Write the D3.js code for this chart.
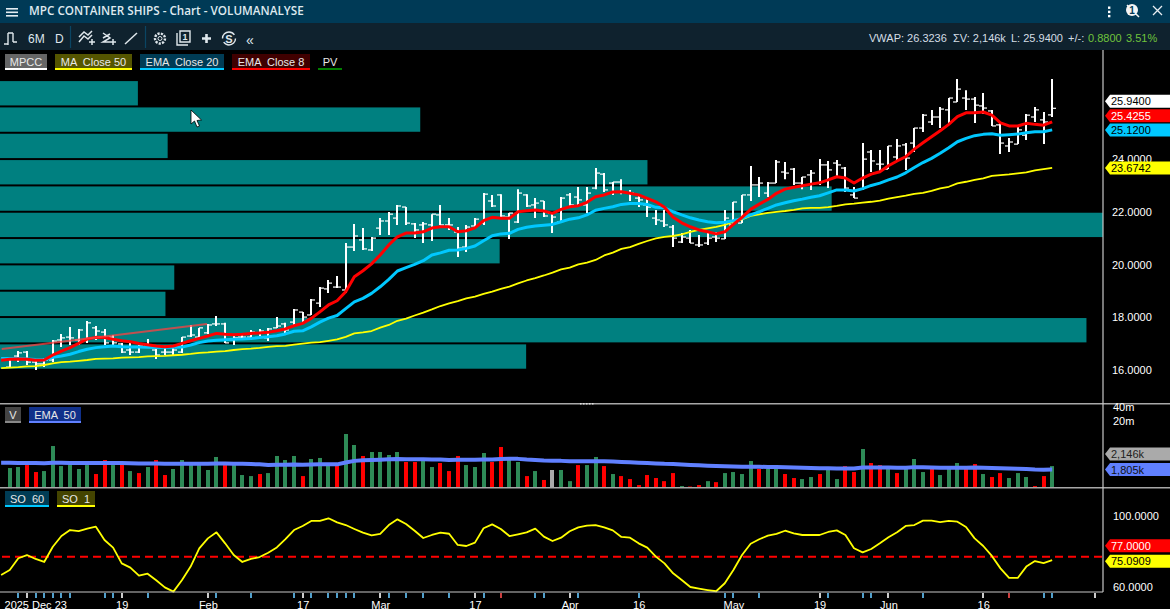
<!DOCTYPE html>
<html>
<head>
<meta charset="utf-8">
<script src="https://cdnjs.cloudflare.com/ajax/libs/d3/7.8.5/d3.min.js"></script>
<style>
  html, body { margin: 0; padding: 0; background: #000; overflow: hidden; }
  svg { display: block; }
  text { font-family: "Liberation Sans", Arial, sans-serif; white-space: pre; }
</style>
</head>
<body>
<svg id="chart" width="1170" height="609"></svg>
<script>
const highs = [16.49,16.72,16.72,16.38,16.46,17.14,17.37,17.63,17.56,17.86,17.67,17.56,17.33,17.03,17.03,16.95,17.18,16.84,16.84,16.84,
  17.25,17.71,17.60,17.75,18.05,17.79,17.29,17.33,17.52,17.56,17.60,18.01,17.79,18.32,18.20,18.70,19.15,19.42,19.57,20.82,
  21.55,21.39,21.05,21.77,22.00,22.27,22.19,21.58,21.62,21.92,22.27,21.77,21.43,21.51,21.77,22.72,22.65,22.68,21.96,22.87,
  22.68,22.53,22.42,22.00,22.57,22.72,22.95,22.95,23.67,23.48,23.14,23.25,22.84,22.61,22.53,22.08,22.08,21.51,21.20,21.32,
  21.13,21.20,21.24,22.08,22.38,22.65,23.75,23.33,23.14,23.98,23.90,23.67,23.33,23.60,24.01,23.94,23.98,23.71,22.95,24.62,
  24.36,24.36,24.51,24.77,24.62,25.19,25.72,25.88,25.99,26.33,27.05,26.63,26.37,26.52,25.88,25.38,24.81,25.23,25.72,25.99,25.80,27.05]
const lows = [16.08,16.30,16.19,16.00,16.11,16.30,16.87,16.95,16.95,17.03,17.14,16.95,16.95,16.65,16.57,16.65,16.84,16.42,16.57,16.57,
  16.65,17.25,17.22,17.37,17.67,17.03,16.95,17.18,17.14,17.25,17.10,17.60,17.41,17.71,17.79,18.09,18.39,18.92,19.11,18.92,
  20.52,20.56,20.52,21.13,21.13,21.51,21.51,21.01,20.82,20.90,21.51,21.32,20.29,20.48,21.39,21.51,22.19,21.81,20.98,21.58,
  22.19,21.77,21.81,21.20,21.58,22.19,22.23,21.96,22.87,22.76,22.65,22.68,22.42,22.19,21.81,21.51,21.43,20.67,20.82,20.82,
  20.67,20.75,20.86,20.98,21.51,21.58,22.42,22.57,22.57,23.10,23.25,23.03,22.87,22.84,23.03,22.91,23.33,22.76,22.53,22.84,
  23.52,23.52,23.63,23.90,23.60,24.28,25.04,25.31,25.19,25.38,26.18,25.88,25.38,25.72,25.27,24.20,24.28,24.58,24.74,25.42,24.58,25.61]
const opens = [16.11,16.53,16.68,16.30,16.23,16.38,17.14,17.25,17.14,17.14,17.60,17.44,17.25,16.99,16.76,16.68,16.95,16.76,16.68,16.68,
  16.68,17.29,17.25,17.41,17.75,17.75,17.14,17.25,17.25,17.41,17.22,17.60,17.75,17.82,18.20,18.09,18.54,19.08,19.15,19.04,
  20.67,20.94,20.56,21.39,21.66,21.77,22.19,21.55,21.51,21.51,21.89,21.51,21.24,20.67,21.47,21.58,22.42,22.65,21.81,21.62,
  22.65,22.27,22.42,21.96,21.62,22.65,22.57,22.27,22.91,23.44,23.10,23.14,22.72,22.53,22.27,21.77,21.66,21.43,20.86,21.01,
  20.75,20.82,21.05,20.98,21.51,21.58,22.65,23.03,22.72,23.10,23.52,23.63,23.10,23.41,23.10,23.79,23.86,23.67,22.65,22.87,
  24.28,23.82,23.63,24.09,24.55,24.62,25.19,25.42,25.61,25.88,26.18,26.33,26.29,26.03,25.84,25.31,24.51,24.58,24.92,25.61,25.50,25.69]
const closes = [16.46,16.65,16.30,16.23,16.38,17.10,17.22,17.22,17.52,17.79,17.48,17.03,17.03,16.68,16.68,16.95,16.95,16.57,16.68,16.76,
  17.25,17.33,17.60,17.71,17.75,17.03,17.22,17.25,17.44,17.48,17.56,17.67,17.52,18.28,18.01,18.66,19.11,19.30,19.15,20.67,
  21.09,20.60,21.01,21.66,21.92,22.23,21.58,21.32,21.55,21.92,21.51,21.51,20.63,21.43,21.73,22.68,22.23,21.85,21.96,22.72,
  22.23,22.34,21.85,21.81,22.53,22.27,22.46,22.72,23.48,22.84,23.14,22.76,22.72,22.46,22.19,21.70,21.51,21.01,21.05,20.82,
  20.75,21.01,21.01,21.77,22.38,22.65,23.03,23.10,23.10,23.90,23.48,23.10,23.33,23.48,23.79,23.60,23.79,22.91,22.53,24.01,
  23.94,23.82,24.51,24.51,24.05,25.19,25.68,25.61,25.91,26.33,26.67,26.29,26.06,25.95,25.27,24.62,24.66,25.12,25.68,25.88,25.42,25.94]

// the indicator lines start one session before the first bar
const ema8 = [16.37,16.41,16.42,16.41,16.37,16.38,16.57,16.72,16.85,17.01,17.18,17.24,17.23,17.17,17.11,17.07,17.01,16.96,16.91,16.88,16.91,
  17.01,17.11,17.20,17.29,17.39,17.36,17.34,17.36,17.39,17.41,17.43,17.49,17.56,17.68,17.77,17.96,18.21,18.47,18.63,18.97,
  19.54,19.77,20.03,20.37,20.75,21.06,21.20,21.20,21.25,21.39,21.44,21.44,21.25,21.29,21.40,21.67,21.80,21.76,21.76,22.01,
  22.05,22.08,22.04,21.95,22.10,22.20,22.24,22.37,22.58,22.65,22.76,22.77,22.71,22.65,22.52,22.39,22.18,21.80,21.59,21.44,
  21.32,21.25,21.17,21.25,21.53,21.80,22.10,22.30,22.48,22.71,22.87,22.94,23.00,23.06,23.11,23.22,23.34,23.29,23.10,23.29,
  23.44,23.53,23.76,23.94,24.10,24.39,24.63,24.86,25.09,25.33,25.62,25.77,25.77,25.80,25.68,25.39,25.27,25.27,25.37,25.33,25.30,25.4255]
const ema20 = [16.44,16.44,16.44,16.42,16.40,16.39,16.48,16.53,16.60,16.70,16.79,16.85,16.88,16.91,16.88,16.87,16.87,16.86,16.85,16.86,16.86,
  16.87,16.95,17.04,17.10,17.13,17.15,17.17,17.18,17.20,17.23,17.26,17.30,17.37,17.47,17.49,17.64,17.82,17.97,18.07,18.33,
  18.59,18.72,18.91,19.16,19.44,19.76,19.89,20.01,20.15,20.37,20.45,20.55,20.56,20.62,20.71,20.91,21.10,21.17,21.19,21.34,
  21.42,21.47,21.50,21.53,21.63,21.73,21.78,21.89,22.07,22.14,22.20,22.29,22.32,22.32,22.29,22.18,22.16,22.01,21.89,21.78,
  21.70,21.63,21.59,21.61,21.67,21.76,21.89,22.01,22.14,22.27,22.35,22.43,22.49,22.56,22.62,22.73,22.84,22.84,22.80,22.89,
  23.01,23.10,23.22,23.33,23.49,23.69,23.88,24.04,24.23,24.44,24.67,24.80,24.90,24.95,24.97,24.92,24.94,24.96,25.01,25.05,25.05,25.12]
const ma50 = [16.07,16.09,16.11,16.14,16.15,16.19,16.25,16.30,16.32,16.35,16.38,16.42,16.43,16.44,16.47,16.48,16.49,16.52,16.53,16.54,16.56,
  16.58,16.61,16.65,16.67,16.70,16.72,16.76,16.79,16.81,16.84,16.88,16.91,16.92,16.96,17.00,17.04,17.06,17.11,17.16,17.26,
  17.39,17.43,17.48,17.61,17.71,17.87,17.95,18.07,18.18,18.30,18.43,18.53,18.62,18.72,18.79,18.89,18.98,19.08,19.17,19.29,
  19.40,19.49,19.59,19.70,19.82,19.89,20.01,20.08,20.18,20.35,20.46,20.60,20.67,20.79,20.90,21.00,21.06,21.09,21.15,21.25,
  21.32,21.38,21.44,21.51,21.63,21.72,21.85,21.91,21.97,22.01,22.04,22.08,22.14,22.16,22.16,22.19,22.23,22.29,22.32,22.36,
  22.39,22.43,22.51,22.57,22.62,22.69,22.73,22.80,22.90,22.96,23.09,23.15,23.22,23.28,23.37,23.40,23.43,23.47,23.51,23.58,23.63,23.6742]

// volume in thousands
const volumes = [1950,2050,2260,1600,1680,5800,2150,2260,1860,2260,1450,2900,2260,2500,1680,1520,2050,2900,1380,1860,
  2900,2260,2260,1770,3370,2260,2260,1380,1310,1450,1520,3540,2900,3540,1310,3050,3210,2260,2260,10510,
  6100,3540,4310,4310,3720,4310,2630,2630,2900,2050,2500,1680,3540,2260,2050,4100,2630,5520,2900,2630,
  1310,1680,1080,1770,1770,1020,2260,2260,3370,2150,1450,1310,1130,840,1380,1190,1020,1520,800,780,
  840,1020,970,1520,1600,1450,2760,1860,1860,1860,1450,1190,1130,1250,1450,1770,1130,2150,1600,5000,
  2500,2260,1860,1520,1860,3050,1600,1860,1380,1860,2500,1860,2380,1450,1250,1520,1190,1520,1250,800,1310,2146]
const volDown = [2,3,10,11,13,15,17,18,25,29,34,38,41,46,47,50,51,52,56,57,60,62,66,69,71,72,73,74,75,76,77,79,80,82,87,90,91,94,97,98,100,101,103,107,111,112,114,115,119,120]
const volFlat = [63]
const volEma50 = [2520,2520,2510,2510,2500,2480,2520,2520,2510,2510,2510,2500,2500,2500,2490,2470,2450,2440,2430,2420,2420,
  2420,2420,2420,2420,2430,2430,2420,2400,2370,2340,2280,2290,2300,2320,2300,2320,2340,2350,2340,2560,
  2780,2850,2900,2950,3000,3040,3020,3020,3010,2980,2960,2920,2950,2950,2930,2980,2980,3060,3070,3070,
  2960,2900,2830,2800,2780,2730,2720,2720,2740,2720,2680,2640,2590,2530,2490,2450,2400,2380,2330,2280,
  2230,2190,2150,2120,2100,2070,2090,2070,2060,2060,2040,2000,1970,1950,1930,1930,1900,1910,1900,2000,
  2010,2010,2010,1990,1990,2040,2020,2010,1980,1980,1990,1990,2000,1970,1950,1930,1900,1880,1860,1820,1800,1805]

const so1 = [66.8,69.6,76.2,78,75.8,74.1,82.7,88.7,92.1,91.5,92.9,94,86.5,82.2,73.3,70.9,66.4,67.5,63.8,59.8,57.4,
  63.9,71.5,81.8,87.4,90.8,84.6,78,74.1,75.8,76.9,79.3,82.3,87,92.1,94.4,97.2,97.2,98.7,96.4,94.9,
  92.7,90.6,89.1,89.9,94.9,98.1,95.5,91.7,87.6,89.3,90.6,90,83.7,83.1,85,93.1,95.3,92.7,88.7,89.7,
  90.8,92.9,88.4,85.9,87.8,91.4,93.6,94.6,94.9,93.6,91.9,88.2,87.8,84.6,82.2,77.1,73.3,67.7,63.9,60,
  59.1,58.3,57.6,62.1,69.6,78,84.4,86.9,88.9,89.9,91.7,90.2,89.3,89.3,89.3,91,91.9,89.3,81.8,79.5,
  81.4,84.6,88,90.8,94.4,94.9,97.4,97.4,96.6,97.2,96.8,93.8,87.4,83.1,77.5,70.5,65.1,65.1,71.5,74.6,73.5,75.0909]

// volume profile: one bar per price unit, length as % of the pane
const pvLevels = [16,17,18,19,20,21,22,23,24,25,26]
const pvShares = [47.7,98.5,15,15.8,45.3,100,75.4,58.7,15.2,38.1,12.5]

const trendIndex = [-0.93,22.9]
const trendPrice = [16.80,17.75]

const priceTicks = [16,18,20,22,24]
const volumeTicks = [20000,40000]
const soTicks = [60,100]
const soLevel = 77

const dateTicks = [2,13,23,34,43,54,65,73,84,94,102,113]
const dateLabels = ['2025 Dec 23','19','Feb','17','Mar','17','Apr','16','May','19','Jun','16']
const blueTicks = [1,3,4,5,6,7,11,12,16,24,28,33,35,37,38,39,40,44,46,48,51,55,61,62,66,73,83,84,87,95,99,100,106,120,121]
const redTicks = [57,116]
const whiteTicks = [126]

const paneRight = 1103
const green = '#2e8b57'
const svg = d3.select('#chart')

let x = d3.scaleLinear().domain([-1.13, 126.9]).range([0, paneRight])
let y = d3.scaleLinear().domain([16, 27]).range([370, 80.4])
let yVol = d3.scaleLog().domain([763, 20000]).range([487, 421])
let ySo = d3.scaleLinear().domain([60, 100]).range([587, 516])
let xPv = d3.scaleLinear().domain([0, 100]).range([0, paneRight])

svg.append('rect').attr('width', 1170).attr('height', 609).attr('fill', '#000')

// volume profile
svg.append('g').selectAll('rect').data(pvLevels).enter().append('rect')
  .attr('x', 0)
  .attr('y', d => y(d + 1) + 0.7)
  .attr('width', (d, i) => xPv(pvShares[i]))
  .attr('height', d => y(d) - y(d + 1) - 2)
  .attr('fill', '#008080')

// ohlc bars
let bars = svg.append('g').attr('stroke', '#fff')
closes.forEach((c, i) => {
  let px = Math.round(x(i))
  bars.append('line').attr('x1', px).attr('x2', px).attr('y1', y(highs[i])).attr('y2', y(lows[i])).attr('stroke-width', 2)
  bars.append('line').attr('x1', px - 4).attr('x2', px).attr('y1', y(opens[i])).attr('y2', y(opens[i])).attr('stroke-width', 1.2)
  bars.append('line').attr('x1', px).attr('x2', px + 4).attr('y1', y(c)).attr('y2', y(c)).attr('stroke-width', 1.2)
})

function drawLine(values, yScale, color, width) {
  let line = d3.line().x((d, i) => x(i - 1)).y(d => yScale(d))
  svg.append('path').attr('d', line(values)).attr('fill', 'none')
    .attr('stroke', color).attr('stroke-width', width).attr('stroke-linejoin', 'round')
}

drawLine(ma50, y, '#ffff00', 1.8)
drawLine(ema20, y, '#00c8ff', 3)
drawLine(ema8, y, '#ff0000', 3)

// trend line
svg.append('line')
  .attr('x1', x(trendIndex[0])).attr('y1', y(trendPrice[0]))
  .attr('x2', x(trendIndex[1])).attr('y2', y(trendPrice[1]))
  .attr('stroke', '#ff4040').attr('stroke-opacity', 0.75).attr('stroke-width', 2)

// volume
svg.append('g').selectAll('rect').data(volumes).enter().append('rect')
  .attr('x', (d, i) => Math.round(x(i)) - 2)
  .attr('y', d => yVol(d))
  .attr('width', 4)
  .attr('height', d => 487 - yVol(d))
  .attr('fill', (d, i) => volFlat.includes(i) ? '#aaaaaa' : volDown.includes(i) ? '#ff0000' : green)
drawLine(volEma50, yVol, '#6080ff', 4)

// stochastic
svg.append('line').attr('x1', 2).attr('x2', paneRight).attr('y1', ySo(soLevel)).attr('y2', ySo(soLevel))
  .attr('stroke', '#ff0000').attr('stroke-width', 2).attr('stroke-dasharray', '8,5')
drawLine(so1, ySo, '#ffff00', 1.8)

// frame
function rule(x1, x2, y1, y2, w, c) {
  svg.append('line').attr('x1', x1).attr('x2', x2).attr('y1', y1).attr('y2', y2)
    .attr('stroke', c).attr('stroke-width', w)
}
rule(0, 1170, 403.8, 403.8, 1.6, '#a8a8a8')
rule(0, 1170, 487.8, 487.8, 1.6, '#a8a8a8')
rule(0, paneRight, 592, 592, 1.2, '#c8c8c8')
rule(paneRight, paneRight, 50, 592, 1.2, '#c8c8c8')
d3.range(5).forEach(i => {
  svg.append('rect').attr('x', 580 + i * 3).attr('y', 403).attr('width', 1.5).attr('height', 1.5).attr('fill', '#e0e0e0')
})

// time axis
function timeMarks(list, color) {
  svg.append('g').selectAll('line').data(list).enter().append('line')
    .attr('x1', d => Math.round(x(d))).attr('x2', d => Math.round(x(d)))
    .attr('y1', 593).attr('y2', 598).attr('stroke', color).attr('stroke-width', 1.6)
}
timeMarks(blueTicks, '#66c8ff')
timeMarks(redTicks, '#ff5050')
timeMarks(whiteTicks.concat(dateTicks.filter(d => d != 73 && d != 84)), '#ffffff')

let xAxis = d3.axisBottom(x).tickValues(dateTicks)
  .tickFormat((d, i) => dateLabels[i]).tickSize(0).tickPadding(0)
let xg = svg.append('g').attr('transform', 'translate(0,598)').call(xAxis)
xg.select('.domain').remove()
xg.selectAll('text').attr('fill', '#fff').attr('font-size', 11).attr('y', 0).attr('dy', 10.5)
  .filter((d, i) => i == 0).attr('text-anchor', 'start').attr('x', 4 - x(2))

// value axes
function valueAxis(scale, ticks, fmt, left) {
  let g = svg.append('g').attr('transform', `translate(${left},0)`)
    .call(d3.axisRight(scale).tickValues(ticks).tickFormat(fmt).tickSize(0).tickPadding(0))
  g.select('.domain').remove()
  g.selectAll('text').attr('fill', '#fff').attr('font-size', 11)
}
valueAxis(y, priceTicks, d3.format('.4f'), 1112)
valueAxis(yVol, volumeTicks, d => (d / 1000) + 'm', 1113)
valueAxis(ySo, soTicks, d3.format('.4f'), 1113)

// value callouts on the right
function callout(cy, label, fill, color) {
  svg.append('path')
    .attr('d', `M1105,${cy}L1110,${cy - 6.5}H1170V${cy + 6.5}H1110Z`)
    .attr('fill', fill)
  svg.append('text').attr('x', 1111).attr('y', cy + 4).attr('font-size', 11).attr('fill', color).text(label)
}
const fmt4 = d3.format('.4f')
const last = arr => arr[arr.length - 1]
callout(y(last(closes)) - 7, fmt4(last(closes)), '#ffffff', '#000')
callout(y(last(ema8)) - 6, fmt4(last(ema8)), '#ff0000', '#fff')
callout(y(last(ema20)), fmt4(last(ema20)), '#00c8ff', '#000')
callout(y(last(ma50)), fmt4(last(ma50)), '#ffff00', '#000')
callout(yVol(last(volumes)) - 12, '2,146k', '#aaaaaa', '#222')
callout(yVol(last(volEma50)), '1,805k', '#6080ff', '#111')
callout(ySo(soLevel) - 11, fmt4(soLevel), '#ff0000', '#fff')
callout(ySo(last(so1)) + 1, fmt4(last(so1)), '#ffff00', '#000')

// legend chips
function chip(lx, ly, w, label, bg, under) {
  if (bg) svg.append('rect').attr('x', lx).attr('y', ly).attr('width', w).attr('height', 14).attr('fill', bg)
  svg.append('rect').attr('x', lx).attr('y', ly + 14).attr('width', w).attr('height', 2).attr('fill', under)
  svg.append('text').attr('x', lx + w / 2).attr('y', ly + 11.5).attr('text-anchor', 'middle')
    .attr('font-size', 11).attr('fill', '#e8e8e8').text(label)
}
chip(5, 54, 42, 'MPCC', '#666666', '#ffffff')
chip(55, 54, 77, 'MA  Close 50', '#555500', '#ffff00')
chip(140, 54, 84, 'EMA  Close 20', '#003c55', '#00c8ff')
chip(232, 54, 78, 'EMA  Close 8', '#400000', '#ff0000')
chip(318, 54, 24, 'PV', null, '#008000')
chip(5, 407, 16, 'V', '#444444', '#888888')
chip(29, 407, 52, 'EMA  50', '#10308a', '#6080ff')
chip(5, 491, 44, 'SO  60', '#003c55', '#00c8ff')
chip(57, 491, 38, 'SO  1', '#444400', '#ffff00')

// mouse cursor
svg.append('path').attr('d', 'M191,110V124L194.5,121L197,127L199.5,126L197,120.5L201.5,120Z')
  .attr('fill', '#fff').attr('stroke', '#000').attr('stroke-width', 0.8)

// title bar and toolbar
svg.append('rect').attr('width', 1170).attr('height', 23).attr('fill', '#003a56')
svg.append('rect').attr('y', 23).attr('width', 1170).attr('height', 27).attr('fill', '#0f222e')

d3.range(3).forEach(i => {
  svg.append('rect').attr('x', 6).attr('y', 8 + i * 3.5).attr('width', 12).attr('height', 1.6).attr('fill', '#e4edf2')
})
svg.append('text').attr('x', 29).attr('y', 15).attr('font-size', 11.7).attr('font-weight', 600)
  .style('font-family', '"Open Sans"').attr('fill', '#dfe9ef').text('MPC CONTAINER SHIPS - Chart - VOLUMANALYSE')

// window buttons
d3.range(3).forEach(i => {
  svg.append('rect').attr('x', 1108).attr('y', 6.5 + i * 4.2).attr('width', 2.4).attr('height', 2.4).attr('fill', '#fff')
})
svg.append('circle').attr('cx', 1132).attr('cy', 10).attr('r', 6).attr('fill', '#f4f4f4')
svg.append('text').attr('x', 1132).attr('y', 14).attr('text-anchor', 'middle').attr('font-size', 10).attr('font-weight', 700).attr('fill', '#003a56').text('1')
svg.append('path').attr('d', 'M1136,14L1139,17M1127,5L1129,7').attr('stroke', '#f4f4f4').attr('stroke-width', 1.5)
svg.append('path').attr('d', 'M1153,6L1162,15M1162,6L1153,15').attr('stroke', '#e8eef2').attr('stroke-width', 1.3)

// toolbar items
const iconColor = '#dfe7ec'
function icon(d, w) {
  svg.append('path').attr('d', d).attr('fill', 'none').attr('stroke', iconColor).attr('stroke-width', w || 1.4)
}
icon('M4,44H8M8,45V33M8,33H13M13,33V42M13,42H17')
svg.append('text').attr('x', 28).attr('y', 43).attr('font-size', 12).attr('fill', iconColor).text('6M')
svg.append('text').attr('x', 55).attr('y', 43).attr('font-size', 12).attr('fill', iconColor).text('D')
rule(70.5, 70.5, 26, 48, 1.2, '#0a4563')
rule(145.5, 145.5, 26, 48, 1.2, '#0a4563')
icon('M79,42L84,36L88,39L92,35M79,37L84,32L88,35L92,31M89,42H95M92,39V45', 1.5)
icon('M103,33L110,38L103,42L110,42M103,38L110,34M110,42H116M113,39V45', 1.5)
icon('M125,44L137,33', 1.5)
svg.append('circle').attr('cx', 160).attr('cy', 38.5).attr('r', 5).attr('fill', 'none').attr('stroke', iconColor).attr('stroke-width', 2.4).attr('stroke-dasharray', '2.2,1.2')
svg.append('circle').attr('cx', 160).attr('cy', 38.5).attr('r', 2).attr('fill', 'none').attr('stroke', iconColor)
icon('M177,33V45H188M180,31H190V42H180Z')
svg.append('text').attr('x', 185).attr('y', 40).attr('text-anchor', 'middle').attr('font-size', 9).attr('font-weight', 700).attr('fill', iconColor).text('1')
icon('M202,38.5H211M206.5,34V43', 2.6)
svg.append('circle').attr('cx', 229).attr('cy', 38.5).attr('r', 6.5).attr('fill', 'none').attr('stroke', iconColor).attr('stroke-width', 1.4).attr('stroke-dasharray', '16,4')
svg.append('text').attr('x', 229).attr('y', 42.5).attr('text-anchor', 'middle').attr('font-size', 11).attr('font-weight', 700).attr('fill', iconColor).text('S')
svg.append('text').attr('x', 246).attr('y', 45).attr('font-size', 14).attr('fill', iconColor).text('«')

// quote line
function quote(qx, label, color) {
  svg.append('text').attr('x', qx).attr('y', 42).attr('font-size', 11).attr('fill', color).text(label)
}
quote(869, 'VWAP: 26.3236', '#d4dee5')
quote(953, 'ΣV: 2,146k', '#d4dee5')
quote(1011, 'L: 25.9400', '#d4dee5')
quote(1068, '+/-:', '#d4dee5')
quote(1088, '0.8800', '#6fc23c')
quote(1126, '3.51%', '#6fc23c')
</script>
</body>
</html>
